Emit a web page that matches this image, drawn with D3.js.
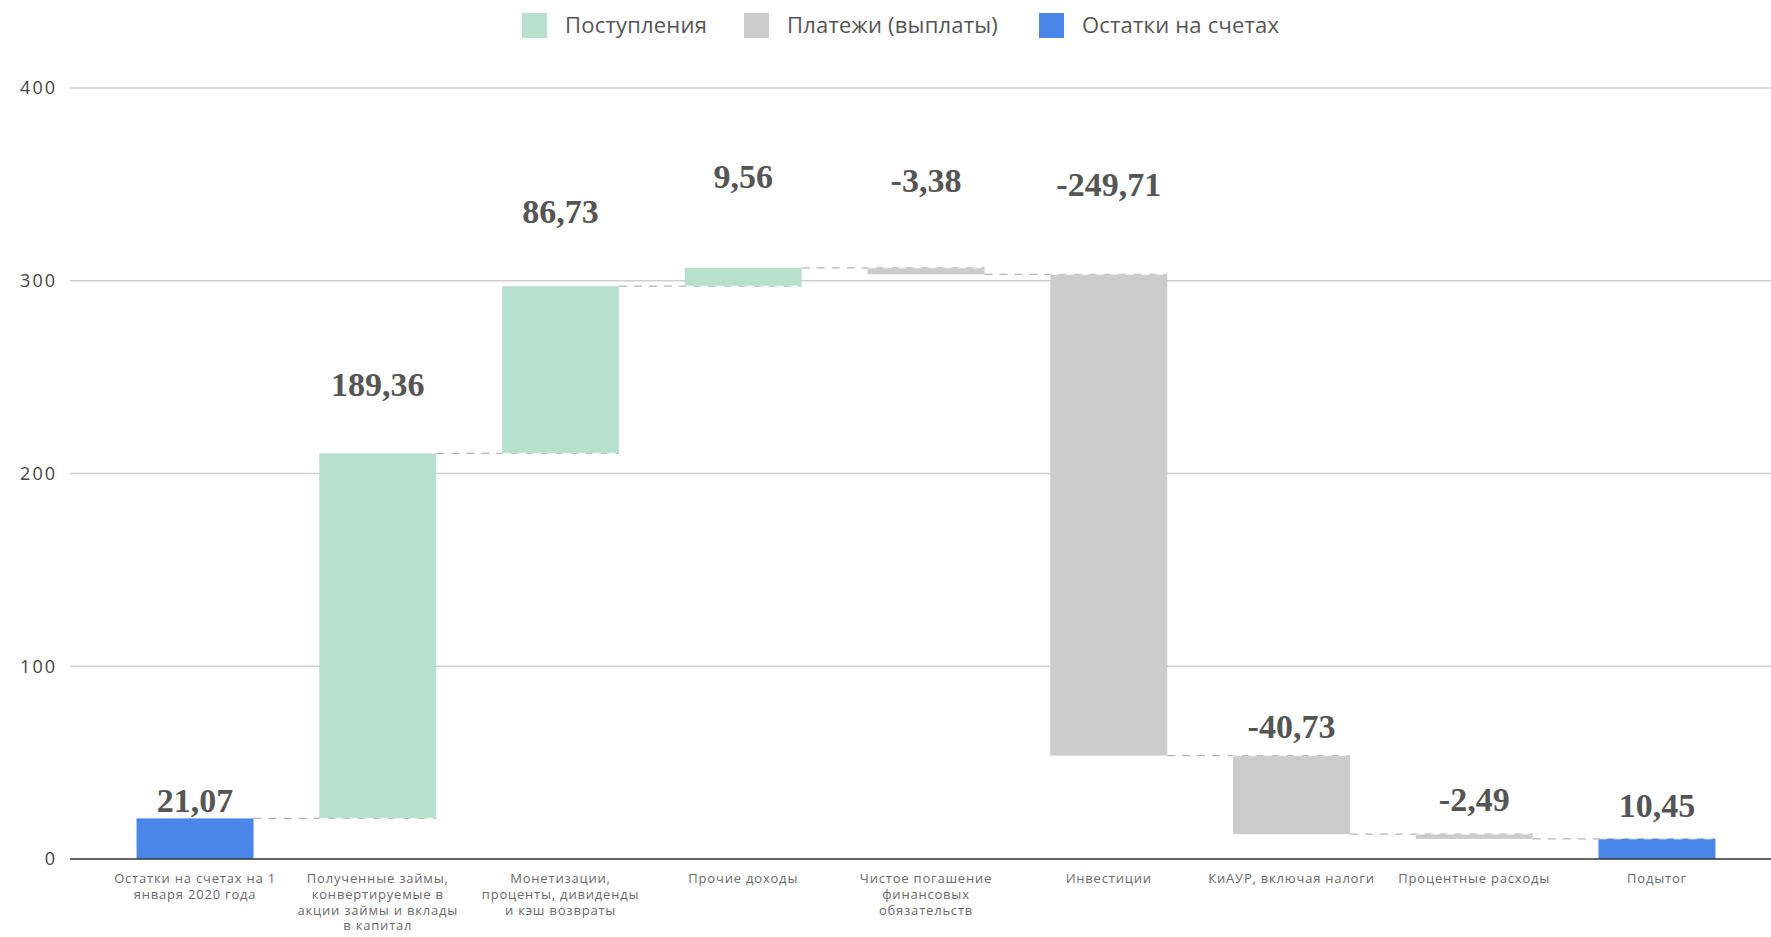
<!DOCTYPE html>
<html>
<head>
<meta charset="utf-8">
<script src="https://cdn.jsdelivr.net/npm/d3@7"></script>
<style>
  body { margin: 0; background: #fff; }
  svg { display: block; }
</style>
</head>
<body>
<script>
// категории (подписи по оси X, строки разделены \n)
var categories = [
    "Остатки на счетах на 1\nянваря 2020 года",
    "Полученные займы,\nконвертируемые в\nакции займы и вклады\nв капитал",
    "Монетизации,\nпроценты, дивиденды\nи кэш возвраты",
    "Прочие доходы",
    "Чистое погашение\nфинансовых\nобязательств",
    "Инвестиции",
    "КиАУР, включая налоги",
    "Процентные расходы",
    "Подытог"
];
var values = [21.07, 189.36, 86.73, 9.56, -3.38, -249.71, -40.73, -2.49, 10.45];
var kinds = ["total", "step", "step", "step", "step", "step", "step", "step", "total"];
var yTicks = [0, 100, 200, 300, 400];
var legendNames = ["Поступления", "Платежи (выплаты)", "Остатки на счетах"];

var w = 1771,
    h = 937;

var colors = { up: "#b7e1cd", down: "#cccccc", total: "#4a86e8" };

// running totals
var bars = [];
var run = 0;
values.forEach(function (v, i) {
    var b = { name: categories[i], value: v, i: i };
    if (kinds[i] == "total") {
        b.y0 = 0; b.y1 = v; b.type = "total";
        run = v;
    } else {
        b.y0 = run; b.y1 = run + v; b.type = v >= 0 ? "up" : "down";
        run = run + v;
    }
    bars.push(b);
});

var svg = d3.select("body").append("svg")
    .attr("width", w)
    .attr("height", h);

var x = d3.scaleBand()
    .domain(d3.range(categories.length))
    .range([81, 1771])
    .paddingInner(0.36)
    .paddingOuter(0.304);

var y = d3.scaleLinear()
    .domain([0, 400])
    .range([859, 88]);

// grid
svg.append("g").selectAll("line")
    .data(yTicks.filter(function (t) { return t > 0; }))
    .enter().append("line")
    .attr("x1", 70).attr("x2", w)
    .attr("y1", function (d) { return y(d); })
    .attr("y2", function (d) { return y(d); })
    .attr("stroke", "#cfcfcf")
    .attr("stroke-width", 1.3);

svg.append("g").selectAll("text")
    .data(yTicks)
    .enter().append("text")
    .attr("x", 57)
    .attr("y", function (d) { return y(d); })
    .attr("dy", "0.36em")
    .attr("text-anchor", "end")
    .attr("font-family", "Open Sans")
    .attr("font-size", 18)
    .attr("letter-spacing", 2)
    .attr("fill", "#444")
    .text(function (d) { return d; });

// connectors
svg.append("g").selectAll("line")
    .data(bars.slice(0, -1))
    .enter().append("line")
    .attr("x1", function (d) { return x(d.i) + x.bandwidth(); })
    .attr("x2", function (d) { return x(d.i + 1) + x.bandwidth(); })
    .attr("y1", function (d) { return y(d.y1); })
    .attr("y2", function (d) { return y(d.y1); })
    .attr("stroke", "#b5b5b5")
    .attr("stroke-width", 1.2)
    .attr("stroke-dasharray", "8,7");

// bars
svg.append("g").selectAll("rect")
    .data(bars)
    .enter().append("rect")
    .attr("x", function (d) { return x(d.i); })
    .attr("width", x.bandwidth())
    .attr("y", function (d) { return y(Math.max(d.y0, d.y1)); })
    .attr("height", function (d) { return Math.abs(y(d.y0) - y(d.y1)); })
    .attr("fill", function (d) { return colors[d.type]; });

// dashed edge where connector meets the next bar
svg.append("g").selectAll("line")
    .data(bars.slice(1))
    .enter().append("line")
    .attr("x1", function (d) { return x(d.i); })
    .attr("x2", function (d) { return x(d.i) + x.bandwidth(); })
    .attr("y1", function (d) { return y(d.type == "total" ? d.y1 : d.y0); })
    .attr("y2", function (d) { return y(d.type == "total" ? d.y1 : d.y0); })
    .attr("stroke", "#fff")
    .attr("stroke-opacity", 0.6)
    .attr("stroke-width", 1.2)
    .attr("stroke-dasharray", "8,7");

// zero line
svg.append("line")
    .attr("x1", 70).attr("x2", w)
    .attr("y1", y(0)).attr("y2", y(0))
    .attr("stroke", "#333")
    .attr("stroke-width", 1.6);

// value labels (placed by hand in the source chart, levels in axis units)
var labelAt = [30.6, 246, 336, 354, 352, 350, 69, 31, 28];
var fmt = d3.format(".2f");
svg.append("g").selectAll("text")
    .data(bars)
    .enter().append("text")
    .attr("x", function (d) { return x(d.i) + x.bandwidth() / 2; })
    .attr("y", function (d) { return y(labelAt[d.i]); })
    .attr("dy", "0.34em")
    .attr("text-anchor", "middle")
    .attr("font-family", "Liberation Serif")
    .attr("font-weight", "bold")
    .attr("font-size", 34)
    .attr("fill", "#555")
    .text(function (d) { return fmt(d.value).replace("−", "-").replace(".", ","); });

// x labels
svg.append("g").selectAll("text")
    .data(bars)
    .enter().append("text")
    .attr("text-anchor", "middle")
    .attr("font-family", "Open Sans")
    .attr("font-size", 13)
    .attr("letter-spacing", 0.8)
    .attr("fill", "#6a6a6a")
    .each(function (d) {
        var t = d3.select(this);
        d.name.split("\n").forEach(function (line, k) {
            t.append("tspan")
                .attr("x", x(d.i) + x.bandwidth() / 2)
                .attr("y", 883 + k * 15.8)
                .text(line);
        });
    });

// legend
var legendX = [522, 744, 1039];
var legend = svg.append("g").selectAll("g")
    .data(legendNames)
    .enter().append("g")
    .attr("transform", function (d, i) { return "translate(" + legendX[i] + ",13)"; });
legend.append("rect")
    .attr("width", 25).attr("height", 25)
    .attr("fill", function (d, i) { return [colors.up, colors.down, colors.total][i]; });
legend.append("text")
    .attr("x", 43).attr("y", 12.5)
    .attr("dy", "0.36em")
    .attr("font-family", "Open Sans")
    .attr("font-size", 22)
    .attr("letter-spacing", 0.2)
    .attr("fill", "#555")
    .text(function (d) { return d; });
</script>
</body>
</html>
